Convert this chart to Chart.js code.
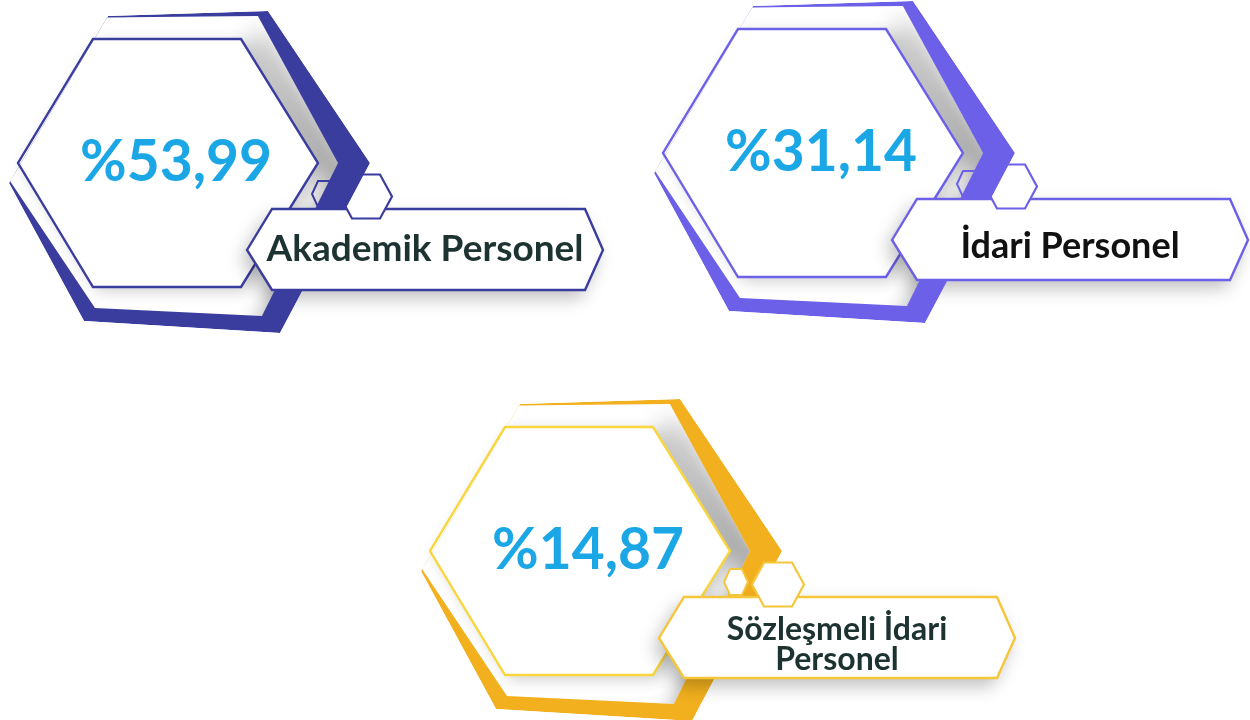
<!DOCTYPE html>
<html>
<head>
<meta charset="utf-8">
<script src="https://cdn.jsdelivr.net/npm/chart.js@4.4.1/dist/chart.umd.min.js"></script>
<style>
html,body{margin:0;padding:0;background:#ffffff;overflow:hidden;}
#wrap{width:1250px;height:720px;position:relative;}
</style>
</head>
<body>
<div id="wrap"><canvas id="c"></canvas></div>
<script>
// ---- data ----
const categories = ['Akademik Personel', 'İdari Personel', 'Sözleşmeli İdari Personel'];
const shares = [53.99, 31.14, 14.87];
const labelLines = [['Akademik Personel'], ['İdari Personel'], ['Sözleşmeli İdari', 'Personel']];

// ---- styles (kept apart from data) ----
const theme = [
  {band:'#3b3d9e', inner:'#3b3d9e', label:'#3b3d9e', small:'#3b3d9e', tinyFill:null, text:'#1d3331', hexOnTop:false},
  {band:'#6c60e8', inner:'#6c60e8', label:'#6c60e8', small:'#6c60e8', tinyFill:null, text:'#111111', hexOnTop:false},
  {band:'#f2b01e', inner:'#f9d63c', label:'#f5c53a', small:'#f5c53a', tinyFill:'#ffffff', text:'#1d3331', hexOnTop:true}
];
const valueColor = '#1ba7e6';

// ---- layout (template card, local coordinates) ----
const cardOrigins = [[0,0],[645,-10],[412,388]];
const outerBand = [[108,16],[268,11],[370,163],[280,333],[84,321],[9,183]];
const bandCut   = [[100,17.5],[258,16],[338,163],[262,316],[95,308],[10,181]];
const bandRight = [[258,16],[268,11],[370,163],[280,333],[262,316],[338,163]];
const innerHex  = [[93,39],[241,39],[318,163],[241,287],[93,287],[18,163]];
const labelBox  = [[247,250],[272,209],[585,209],[603,250],[585,290],[272,290]];
const bigSmall  = {cx:366, cy:196.5, hw:26, tw:14, hh:22};
const tinySmall = {cx:324, cy:194, hw:12, tw:6, hh:13};
const valuePos  = {cx:176, capMid:160, size:58, width:192};
const labelCx = 425, labelLineGap = 30;
const labelCapMid = [248, 255, 255];
const labelSizes = [37, 36, 32];

function fmt(v){ return '%' + v.toFixed(2).replace('.', ','); }

const cardsPlugin = {
  id: 'hexCards',
  afterDraw(chart) {
    const ctx = chart.ctx;
    const sx = chart.scales.x, sy = chart.scales.y;
    const vals = chart.data.datasets[0].data;
    chart.data.labels.forEach((cat, i) => {
      const [ox, oy] = cardOrigins[i];
      const th = theme[i];
      const X = x => sx.getPixelForValue(ox + x);
      const Y = y => sy.getPixelForValue(oy + y);
      const trace = (pts) => { pts.forEach((p,k)=>{ k?ctx.lineTo(X(p[0]),Y(p[1])):ctx.moveTo(X(p[0]),Y(p[1])); }); ctx.closePath(); };
      const poly = (pts) => { ctx.beginPath(); trace(pts); };
      const hexPts = (h) => [[h.cx-h.hw,h.cy],[h.cx-h.tw,h.cy-h.hh],[h.cx+h.tw,h.cy-h.hh],[h.cx+h.hw,h.cy],[h.cx+h.tw,h.cy+h.hh],[h.cx-h.tw,h.cy+h.hh]];

      const drawBand = (excludeLabel) => {
        ctx.save();
        if (excludeLabel) {
          ctx.beginPath();
          ctx.rect(chart.chartArea.left, chart.chartArea.top, chart.chartArea.width, chart.chartArea.height);
          trace(labelBox);
          ctx.clip('evenodd');
        }
        poly(outerBand); ctx.clip();
        ctx.beginPath(); trace(outerBand); trace(bandCut);
        ctx.fillStyle = th.band; ctx.fill('evenodd');
        ctx.restore();
      };
      const drawSmallHexes = () => {
        ctx.save();
        poly(hexPts(tinySmall));
        if (th.tinyFill) { ctx.fillStyle = th.tinyFill; ctx.fill(); }
        ctx.lineWidth = 2; ctx.strokeStyle = th.small; ctx.stroke();
        poly(hexPts(bigSmall));
        ctx.fillStyle = '#ffffff'; ctx.fill(); ctx.lineWidth = 2.2; ctx.strokeStyle = th.small; ctx.stroke();
        ctx.restore();
      };
      const drawLabelBox = () => {
        ctx.save();
        poly(labelBox);
        ctx.shadowColor = 'rgba(0,0,0,0.26)'; ctx.shadowBlur = 18; ctx.shadowOffsetX = -5; ctx.shadowOffsetY = 8;
        ctx.fillStyle = '#ffffff'; ctx.fill();
        ctx.restore();
        ctx.save(); poly(labelBox); ctx.lineWidth = 2.4; ctx.strokeStyle = th.label; ctx.stroke(); ctx.restore();
      };

      // shadow cast by the thick right part of the band into the open area
      ctx.save();
      poly(bandCut); ctx.clip();
      poly(bandRight);
      ctx.shadowColor = 'rgba(0,0,0,0.42)'; ctx.shadowBlur = 24; ctx.shadowOffsetX = -8; ctx.shadowOffsetY = 22;
      ctx.fillStyle = th.band; ctx.fill();
      ctx.restore();

      // inner hexagon
      ctx.save();
      poly(innerHex);
      ctx.shadowColor = 'rgba(0,0,0,0.20)'; ctx.shadowBlur = 16; ctx.shadowOffsetX = 6; ctx.shadowOffsetY = 4;
      ctx.fillStyle = '#ffffff'; ctx.fill();
      ctx.restore();
      ctx.save(); poly(innerHex); ctx.lineWidth = 2.4; ctx.strokeStyle = th.inner; ctx.lineJoin='miter'; ctx.stroke(); ctx.restore();

      if (th.hexOnTop) {
        drawBand(false);
        drawLabelBox();
        drawSmallHexes();
      } else {
        drawLabelBox();
        drawSmallHexes();
        drawBand(true);
      }

      // value text
      ctx.save();
      const vtxt = fmt(vals[i]);
      ctx.font = `bold ${valuePos.size}px Lato, "Noto Sans", sans-serif`;
      ctx.fillStyle = valueColor; ctx.textAlign = 'center'; ctx.textBaseline = 'alphabetic';
      const w = ctx.measureText(vtxt).width;
      ctx.translate(X(valuePos.cx), Y(valuePos.capMid + valuePos.size*0.36));
      ctx.scale(valuePos.width / w, 1);
      ctx.fillText(vtxt, 0, 0);
      ctx.restore();

      // category label
      ctx.save();
      const lines = labelLines[i];
      const fs = labelSizes[i];
      ctx.font = `bold ${fs}px Lato, "Noto Sans", sans-serif`;
      ctx.fillStyle = th.text; ctx.textAlign = 'center'; ctx.textBaseline = 'alphabetic';
      lines.forEach((ln, k) => {
        const mid = labelCapMid[i] + (k - (lines.length-1)/2) * labelLineGap;
        ctx.fillText(ln, X(labelCx), Y(mid + fs*0.36));
      });
      ctx.restore();
    });
  }
};

new Chart(document.getElementById('c'), {
  type: 'scatter',
  data: {
    labels: categories,
    datasets: [{ data: shares, pointRadius: 0, pointHoverRadius: 0, showLine: false, borderWidth: 0 }]
  },
  options: {
    responsive: true,
    maintainAspectRatio: false,
    animation: false,
    events: [],
    layout: { padding: 0, autoPadding: false },
    plugins: { legend: { display: false }, tooltip: { enabled: false } },
    scales: {
      x: { type: 'linear', display: false, min: 0, max: 1250 },
      y: { type: 'linear', display: false, min: 0, max: 720, reverse: true }
    }
  },
  plugins: [cardsPlugin]
});
</script>
</body>
</html>
